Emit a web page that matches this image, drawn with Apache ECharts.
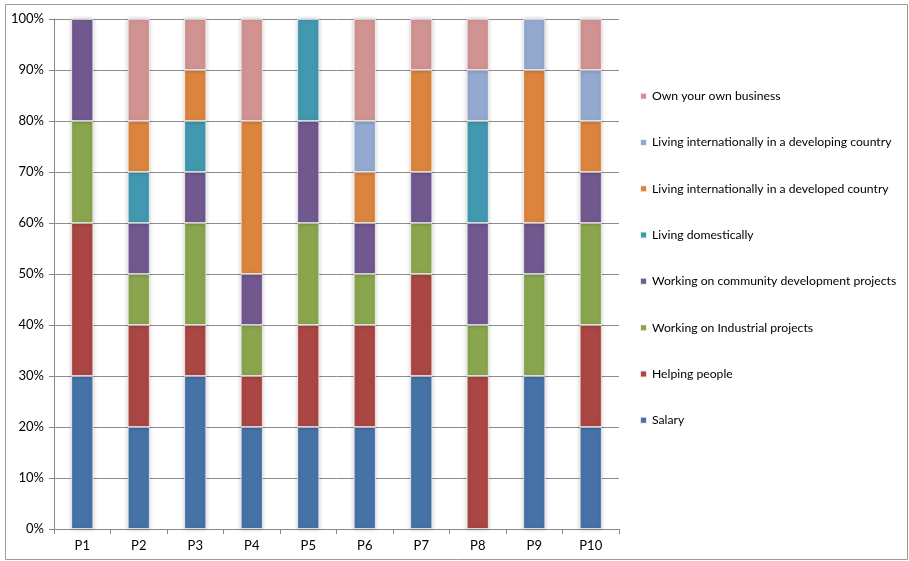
<!DOCTYPE html>
<html>
<head>
<meta charset="utf-8">
<script src="https://cdn.jsdelivr.net/npm/echarts@6/dist/echarts.min.js"></script>
<style>
  html, body { margin: 0; padding: 0; background: #fff; }
  #chart { width: 909px; height: 561px; }
</style>
</head>
<body>
<div id="chart"></div>
<script>
// Share of each preference per participant (percent)
const categories = ['P1', 'P2', 'P3', 'P4', 'P5', 'P6', 'P7', 'P8', 'P9', 'P10'];

const salary         = [30, 20, 30, 20, 20, 20, 30,  0, 30, 20];
const helpingPeople  = [30, 20, 10, 10, 20, 20, 20, 30,  0, 20];
const industrial     = [20, 10, 20, 10, 20, 10, 10, 10, 20, 20];
const community      = [20, 10, 10, 10, 20, 10, 10, 20, 10, 10];
const domestic       = [ 0, 10, 10,  0, 20,  0,  0, 20,  0,  0];
const developed      = [ 0, 10, 10, 30,  0, 10, 20,  0, 30, 10];
const developing     = [ 0,  0,  0,  0,  0, 10,  0, 10, 10, 10];
const ownBusiness    = [ 0, 20, 10, 20,  0, 20, 10, 10,  0, 10];

const yTicks = [0, 10, 20, 30, 40, 50, 60, 70, 80, 90, 100];

const seriesDefs = [
  { name: 'Salary', data: salary, color: '#4672A8' },
  { name: 'Helping people', data: helpingPeople, color: '#AA4643' },
  { name: 'Working on Industrial projects', data: industrial, color: '#89A54E' },
  { name: 'Working on community development projects', data: community, color: '#71588F' },
  { name: 'Living domestically', data: domestic, color: '#4198AF' },
  { name: 'Living internationally in a developed country', data: developed, color: '#DB843D' },
  { name: 'Living internationally in a developing country', data: developing, color: '#93A9CF' },
  { name: 'Own your own business', data: ownBusiness, color: '#D19392' }
];

const font = 'Lato, "Open Sans", sans-serif';

const chart = echarts.init(document.getElementById('chart'));
chart.setOption({
  animation: false,
  backgroundColor: '#fff',
  graphic: [{
    type: 'rect',
    shape: { x: 5.5, y: 4.5, width: 902, height: 555 },
    style: { fill: 'none', stroke: '#9a9a9a', lineWidth: 1 },
    silent: true,
    z: -1
  }],
  grid: { left: 54, right: 290, top: 19, bottom: 32, containLabel: false },
  legend: {
    orient: 'vertical',
    left: 634,
    top: 83,
    itemWidth: 7,
    itemHeight: 7,
    itemGap: 30,
    icon: 'rect',
    data: seriesDefs.map(s => s.name).reverse(),
    textStyle: { fontFamily: font, fontSize: 12.2, color: '#000', lineHeight: 16.3 }
  },
  xAxis: {
    type: 'category',
    data: categories,
    axisLine: { lineStyle: { color: '#868686', width: 1 } },
    axisTick: { show: true, length: 5, lineStyle: { color: '#868686' } },
    axisLabel: { fontFamily: font, fontSize: 13, color: '#000', margin: 10 },
    splitLine: { show: false }
  },
  yAxis: {
    type: 'value',
    min: yTicks[0],
    max: yTicks[yTicks.length - 1],
    interval: 10,
    axisLine: { show: true, lineStyle: { color: '#868686', width: 1 } },
    axisTick: { show: true, length: 5, lineStyle: { color: '#868686' } },
    axisLabel: { fontFamily: font, fontSize: 13, color: '#000', margin: 10, formatter: '{value}%' },
    splitLine: { show: true, lineStyle: { color: '#8c8c8c', width: 1 } }
  },
  series: seriesDefs.map(s => ({
    name: s.name,
    type: 'bar',
    stack: 'total',
    barWidth: 22,
    data: s.data.map(v => (v === 0 ? null : v)),
    itemStyle: {
      color: s.color,
      borderColor: 'rgba(255,255,255,0.85)',
      borderWidth: 0.8,
      shadowColor: 'rgba(0,0,0,0.22)',
      shadowBlur: 4,
      shadowOffsetX: 0,
      shadowOffsetY: 0
    }
  }))
});
</script>
</body>
</html>
